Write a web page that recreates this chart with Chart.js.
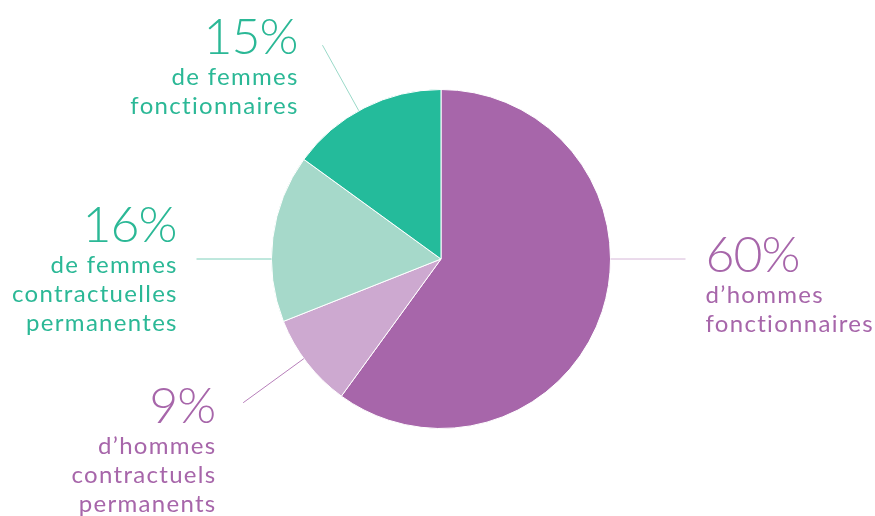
<!DOCTYPE html>
<html>
<head>
<meta charset="utf-8">
<script src="https://cdn.jsdelivr.net/npm/chart.js@4/dist/chart.umd.min.js"></script>
<style>
  html, body { margin: 0; padding: 0; background: #fff; }
  #wrap { width: 875px; height: 516px; position: relative; }
</style>
</head>
<body>
<div id="wrap"><canvas id="pie"></canvas></div>
<script>
// slices, clockwise from 12 o'clock
const shares = [60, 9, 16, 15];
const captions = [
  ['d\u2019hommes', 'fonctionnaires'],
  ['d\u2019hommes', 'contractuels', 'permanents'],
  ['de femmes', 'contractuelles', 'permanentes'],
  ['de femmes', 'fonctionnaires'],
];
const sliceColors = ['#a766aa', '#cda9d0', '#a6d9ca', '#24bb9b'];
const textColors  = ['#a766aa', '#a766aa', '#2bb896', '#2bb896'];
const lineColors  = ['#d6b6d8', '#b77fba', '#7fd0bb', '#9ad9c8'];

// label layout: leader direction (deg clockwise from top)
// and text offset from the outer end of the leader
const labelLayout = [
  { angle: 90,  dx: 20,  dy: 13,  align: 'left'  },
  { angle: 234, dx: -28, dy: 20,  align: 'right' },
  { angle: 270, dx: -20, dy: -17, align: 'right' },
  { angle: 331, dx: -25, dy: 9,   align: 'right' },
];
const leaderLen = 75;
const FONT = 'Lato, "Noto Sans", sans-serif';

const labelPlugin = {
  id: 'sliceLabels',
  afterDraw(chart) {
    const ctx = chart.ctx;
    const arcs = chart.getDatasetMeta(0).data;
    ctx.save();
    arcs.forEach((arc, i) => {
      const lay = labelLayout[i];
      const a = (lay.angle - 90) * Math.PI / 180;
      const r = arc.outerRadius;
      const x0 = arc.x + Math.cos(a) * r, y0 = arc.y + Math.sin(a) * r;
      const x1 = arc.x + Math.cos(a) * (r + leaderLen), y1 = arc.y + Math.sin(a) * (r + leaderLen);
      ctx.strokeStyle = lineColors[i];
      ctx.lineWidth = 1;
      ctx.beginPath();
      ctx.moveTo(x0, y0);
      ctx.lineTo(x1, y1);
      ctx.stroke();

      const tx = x1 + lay.dx;
      let ty = y1 + lay.dy;
      ctx.fillStyle = textColors[i];
      ctx.textAlign = lay.align;
      ctx.textBaseline = 'alphabetic';
      ctx.letterSpacing = '-1px';
      ctx.font = '300 50px ' + FONT;
      ctx.fillText(shares[i] + '%', tx, ty);
      ctx.font = '400 24px ' + FONT;
      ctx.letterSpacing = '1.3px';
      ty += 31;
      captions[i].forEach((line) => {
        ctx.fillText(line, tx + (lay.align === 'right' ? 1.3 : 0), ty);
        ty += 29;
      });
    });
    ctx.restore();
  }
};

new Chart(document.getElementById('pie').getContext('2d'), {
  type: 'pie',
  data: {
    labels: captions.map(c => c.join(' ')),
    datasets: [{
      data: shares,
      backgroundColor: sliceColors,
      borderColor: '#ffffff',
      borderWidth: 1,
    }],
  },
  options: {
    responsive: true, maintainAspectRatio: false, animation: false,
    layout: { padding: { top: 89, bottom: 87, left: 271, right: 264 } },
    plugins: { legend: { display: false }, tooltip: { enabled: false } },
  },
  plugins: [labelPlugin],
});
</script>
</body>
</html>
